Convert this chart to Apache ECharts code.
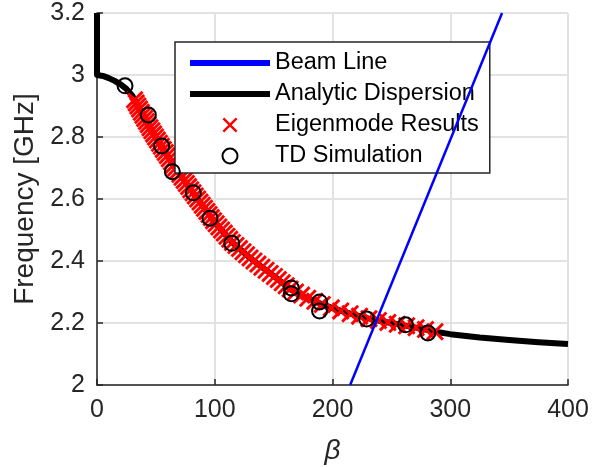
<!DOCTYPE html>
<html>
<head>
<meta charset="utf-8">
<script src="https://cdn.jsdelivr.net/npm/echarts@6/dist/echarts.min.js"></script>
<style>
  html, body { margin: 0; padding: 0; background: #fff; }
  #chart { width: 592px; height: 467px; }
</style>
</head>
<body>
<div id="chart"></div>
<script>
  // beam line endpoints
  const beamBeta = [215, 344];
  const beamFreq = [2.0, 3.2];

  // analytic dispersion curve (vertical part at beta = 0 first)
  const dispBeta = [0, 0, 5, 10, 15, 20, 25, 30, 35, 40, 45, 50, 55, 60, 65, 70, 80, 90, 100,
    115, 130, 140, 150, 165, 180, 190, 200, 215, 230, 245, 260, 275, 290, 300, 325, 350, 375, 400];
  const dispFreq = [3.2, 3.0, 2.997, 2.99, 2.981, 2.97, 2.955, 2.933, 2.898, 2.863, 2.83, 2.798,
    2.768, 2.738, 2.71, 2.682, 2.628, 2.577, 2.525, 2.46, 2.41, 2.38, 2.352, 2.307, 2.278,
    2.262, 2.248, 2.23, 2.215, 2.203, 2.193, 2.182, 2.17, 2.164, 2.153, 2.145, 2.138, 2.132];

  // eigenmode results
  const eigenBeta = [31.9, 33.3, 34.7, 36.1, 37.6, 39.0, 40.5, 42.0, 43.5, 45.0, 46.6, 48.1,
    49.7, 51.3, 53.0, 54.7, 56.3, 58.0, 59.7, 61.4, 63.2, 65.0, 66.8, 68.6, 70.4, 72.2, 74.1,
    75.9, 77.8, 79.6, 81.6, 83.5, 85.5, 87.5, 89.4, 91.3, 93.3, 95.2, 97.1, 99.0, 101.2, 103.5,
    105.8, 108.1, 110.4, 112.7, 115, 118, 121, 124, 127, 130, 133.3, 136.7, 140, 143.6, 147.1,
    150.7, 154, 157.3, 160.7, 164, 168.6, 173.8, 179, 185, 191.3, 199, 207, 215, 223, 231, 239,
    247, 255, 263, 271, 279, 287];
  const eigenFreq = [2.92, 2.91, 2.90, 2.89, 2.88, 2.87, 2.86, 2.85, 2.84, 2.83, 2.82, 2.81,
    2.80, 2.79, 2.78, 2.77, 2.76, 2.75, 2.74, 2.73, 2.72, 2.71, 2.70, 2.69, 2.68, 2.67, 2.66,
    2.65, 2.64, 2.63, 2.62, 2.61, 2.60, 2.59, 2.58, 2.57, 2.56, 2.55, 2.54, 2.53, 2.52, 2.51,
    2.50, 2.49, 2.48, 2.47, 2.46, 2.45, 2.44, 2.43, 2.42, 2.41, 2.40, 2.39, 2.38, 2.37, 2.36,
    2.35, 2.34, 2.33, 2.32, 2.31, 2.30, 2.29, 2.28, 2.27, 2.26, 2.249, 2.239, 2.23, 2.222, 2.214,
    2.208, 2.202, 2.196, 2.191, 2.185, 2.179, 2.172];

  // time domain simulation points
  const tdBeta = [23.8, 43.6, 54.9, 64, 81.8, 96, 114.4, 165, 165, 189, 189, 229, 262, 281];
  const tdFreq = [2.965, 2.871, 2.771, 2.688, 2.62, 2.538, 2.457, 2.313, 2.294, 2.268, 2.239,
    2.213, 2.194, 2.168];

  const xTicks = [0, 400, 100];     // min, max, interval
  const yTicks = [2, 3.2, 0.2];

  const pairs = (xs, ys) => xs.map((x, i) => [x, ys[i]]);

  const FONT = "'Liberation Sans', Arial, sans-serif";
  const AX = '#262626';
  const crossPath = 'path://M0,2.3L2.3,0L10,7.7L17.7,0L20,2.3L12.3,10L20,17.7L17.7,20L10,12.3L2.3,20L0,17.7L7.7,10Z';

  const chart = echarts.init(document.getElementById('chart'));
  chart.setOption({
    animation: false,
    backgroundColor: '#fff',
    textStyle: { fontFamily: FONT },
    grid: { left: 97, right: 24, top: 13, bottom: 82, outerBoundsMode: 'none' },
    xAxis: {
      type: 'value',
      min: xTicks[0], max: xTicks[1], interval: xTicks[2],
      name: 'β',
      nameLocation: 'middle',
      nameGap: 52,
      nameTextStyle: { fontSize: 28, fontStyle: 'italic', color: AX, fontFamily: FONT },
      axisLine: { show: true, onZero: false, lineStyle: { color: AX, width: 1.5 } },
      axisTick: { show: true, inside: true, length: 6, lineStyle: { color: AX, width: 1.5 } },
      axisLabel: { fontSize: 25, color: AX, margin: 13, fontFamily: FONT },
      splitLine: { show: true, lineStyle: { color: '#e2e2e2', width: 2 } }
    },
    yAxis: {
      type: 'value',
      min: yTicks[0], max: yTicks[1], interval: yTicks[2],
      name: 'Frequency [GHz]',
      nameLocation: 'middle',
      nameGap: 55,
      nameTextStyle: { fontSize: 28, color: AX, fontFamily: FONT },
      axisLine: { show: true, onZero: false, lineStyle: { color: AX, width: 1.5 } },
      axisTick: { show: true, inside: true, length: 6, lineStyle: { color: AX, width: 1.5 } },
      axisLabel: { fontSize: 25, color: AX, margin: 12, fontFamily: FONT },
      splitLine: { show: true, lineStyle: { color: '#e2e2e2', width: 2 } }
    },
    legend: {
      orient: 'vertical',
      left: 175,
      top: 42,
      padding: [9, 11, 5, 12],
      backgroundColor: '#fff',
      borderColor: AX,
      borderWidth: 1.5,
      borderRadius: 0,
      itemWidth: 80,
      itemHeight: 15,
      itemGap: 7,
      itemTextGap: 5,
      lineStyle: { width: 6 },
      textStyle: { fontSize: 23.5, color: '#000', fontFamily: FONT },
      data: [
        { name: 'Beam Line', itemStyle: { opacity: 0 } },
        { name: 'Analytic Dispersion', itemStyle: { opacity: 0 } },
        'Eigenmode Results',
        'TD Simulation'
      ]
    },
    series: [
      {
        name: 'Analytic Dispersion',
        type: 'line',
        data: pairs(dispBeta, dispFreq),
        symbol: 'none',
        clip: false,
        lineStyle: { color: '#000', width: 6, join: 'round', cap: 'butt' },
        itemStyle: { color: '#000' },
        z: 2
      },
      {
        name: 'Eigenmode Results',
        type: 'scatter',
        data: pairs(eigenBeta, eigenFreq),
        symbol: crossPath,
        symbolSize: 18,
        symbolKeepAspect: true,
        itemStyle: { color: '#ff0000', opacity: 1 },
        z: 3
      },
      {
        name: 'TD Simulation',
        type: 'scatter',
        data: pairs(tdBeta, tdFreq),
        symbol: 'circle',
        symbolSize: 15,
        itemStyle: { color: 'rgba(0,0,0,0)', borderColor: '#000', borderWidth: 2, opacity: 1 },
        z: 4
      },
      {
        name: 'Beam Line',
        type: 'line',
        data: pairs(beamBeta, beamFreq),
        symbol: 'none',
        lineStyle: { color: '#0000ff', width: 2.5 },
        itemStyle: { color: '#0000ff' },
        z: 5
      }
    ]
  });
</script>
</body>
</html>
